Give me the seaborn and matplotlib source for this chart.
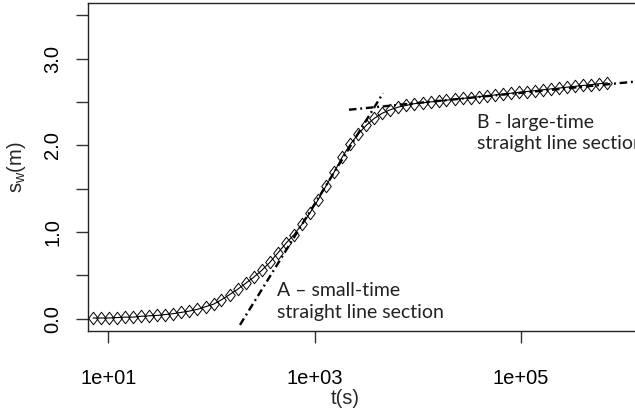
import numpy as np
import pandas as pd
import matplotlib
matplotlib.use("Agg")
import matplotlib.pyplot as plt
from matplotlib.path import Path
import seaborn as sns

# ---- data ----
time_s = [7.08, 8.47, 10.1, 12.1, 14.5, 17.4, 20.8, 24.9, 29.8, 35.6,
          42.7, 51.1, 61.1, 73.1, 87.5, 105, 125, 150, 179, 215,
          257, 308, 368, 441, 527, 631, 755, 904, 1080, 1290,
          1550, 1850, 2220, 2650, 3180, 3800, 4550, 5450, 6520, 7800,
          9330, 11200, 13400, 16000, 19100, 22900, 27400, 32800, 39300, 47000,
          56200, 67300, 80500, 96400, 115000, 138000, 165000, 198000, 237000, 283000,
          339000, 406000, 485000, 581000, 695000]
drawdown_m = [0.01, 0.01, 0.01, 0.015, 0.02, 0.02, 0.03, 0.035, 0.04, 0.05,
              0.06, 0.075, 0.09, 0.11, 0.14, 0.17, 0.22, 0.28, 0.34, 0.41,
              0.48, 0.56, 0.65, 0.76, 0.87, 0.97, 1.09, 1.22, 1.37, 1.53,
              1.69, 1.86, 2.01, 2.13, 2.23, 2.31, 2.37, 2.41, 2.44, 2.46,
              2.48, 2.49, 2.50, 2.51, 2.52, 2.53, 2.54, 2.55, 2.56, 2.57,
              2.58, 2.59, 2.60, 2.61, 2.62, 2.63, 2.64, 2.65, 2.66, 2.67,
              2.68, 2.69, 2.70, 2.71, 2.72]

lineA_t = [189, 4620]
lineA_s = [-0.07, 2.60]
lineB_t = [2160, 1.45e6]
lineB_s = [2.41, 2.74]

x_ticks = [1e1, 1e3, 1e5]
x_tick_labels = ["1e+01", "1e+03", "1e+05"]
y_ticks = [0.0, 0.5, 1.0, 1.5, 2.0, 2.5, 3.0, 3.5]
y_tick_labels = ["0.0", "", "1.0", "", "2.0", "", "3.0", ""]

labelA = "A \u2013 small-time\nstraight line section"
labelB = "B - large-time\nstraight line section"

# ---- style ----
sns.set_theme(style="white")
import matplotlib.font_manager as fm
avail = {f.name for f in fm.fontManager.ttflist}
tick_family = ["Liberation Sans Narrow", "Liberation Sans", "DejaVu Sans"]
tick_family = [f for f in tick_family if f in avail] or ["DejaVu Sans"]
plt.rcParams["font.family"] = tick_family
plt.rcParams["mathtext.fontset"] = "custom"
plt.rcParams["mathtext.rm"] = tick_family[0]

W, H = 635, 412
fig = plt.figure(figsize=(W / 100, H / 100), dpi=100)
ax = fig.add_axes([88 / W, (H - 331) / H, (640 - 88) / W, (331 - 3) / H])

diamond = Path([(0, 1), (0.77, 0), (0, -1), (-0.77, 0), (0, 1)],
               [Path.MOVETO, Path.LINETO, Path.LINETO, Path.LINETO, Path.CLOSEPOLY])

df = pd.DataFrame({"t": time_s, "s": drawdown_m})
sns.lineplot(data=df, x="t", y="s", ax=ax, color="black", linewidth=0.8,
             marker=diamond, markersize=9.0, markerfacecolor="none",
             markeredgecolor="black", markeredgewidth=0.7,
             estimator=None, sort=False, zorder=3)

dfa = pd.DataFrame({"t": lineA_t, "s": lineA_s})
dfb = pd.DataFrame({"t": lineB_t, "s": lineB_s})
for d in (dfa, dfb):
    sns.lineplot(data=d, x="t", y="s", ax=ax, color="black", linewidth=1.7,
                 dashes=False, estimator=None, sort=False, zorder=4)
for ln in ax.lines[1:]:
    ln.set_dashes([3.2, 1.6, 0.8, 1.6])

ax.set_xscale("log")
ax.set_xlim(10 ** 0.801, 10 ** 6.160)
ax.set_ylim(-0.14, 3.64)

ax.set_xticks(x_ticks)
ax.set_xticklabels(x_tick_labels)
ax.xaxis.set_minor_locator(matplotlib.ticker.NullLocator())
ax.set_yticks(y_ticks)
ax.set_yticklabels(y_tick_labels, rotation=90, va="center")

ax.tick_params(axis="both", which="major", direction="out", length=8.5,
               width=1.0, color="#333333", labelsize=14.5, labelcolor="black",
               bottom=True, left=True)
ax.tick_params(axis="x", pad=19)
ax.tick_params(axis="y", pad=10)

for sp in ax.spines.values():
    sp.set_visible(True)
    sp.set_color("#222222")
    sp.set_linewidth(1.0)

ax.set_xlabel("t(s)", fontsize=14.5)
ax.xaxis.set_label_coords((345 - 88) / (640 - 88), -(389 - 331) / 328)
ax.set_ylabel(r"$\mathregular{s_w}$(m)", fontsize=14.5)
ax.yaxis.set_label_coords(-(88 - 28) / (640 - 88), 0.5)

ann_family = [f for f in ["Lato", "Open Sans", "DejaVu Sans"] if f in avail]
ax.text(432, 0.20, labelA, fontsize=14, family=ann_family, color="#222222",
        ha="left", va="center", linespacing=1.3)
ax.text(37800, 2.14, labelB, fontsize=14, family=ann_family, color="#222222",
        ha="left", va="center", linespacing=1.3)

ax.grid(False)
fig.savefig("out.png", dpi=100, facecolor="white")
